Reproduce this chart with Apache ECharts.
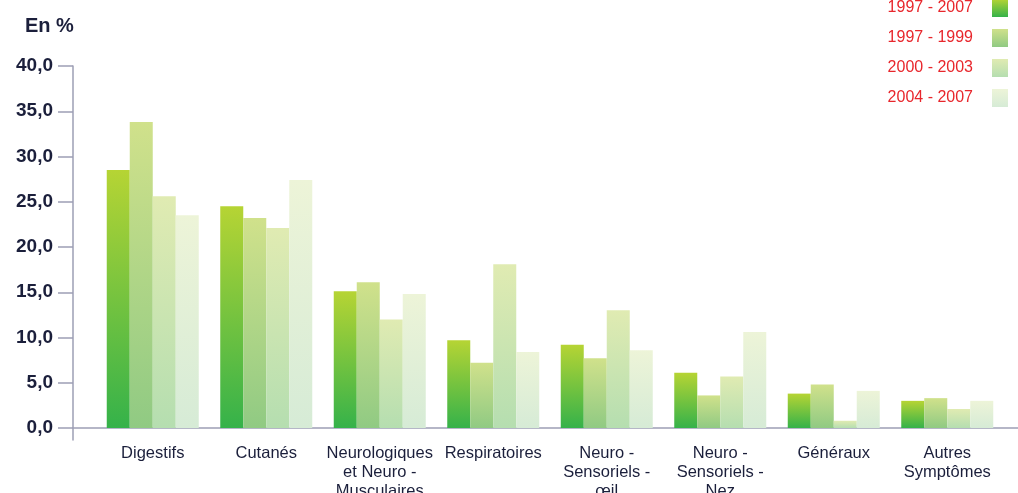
<!DOCTYPE html>
<html>
<head>
<meta charset="utf-8">
<script src="https://cdn.jsdelivr.net/npm/echarts@6/dist/echarts.min.js"></script>
<style>
  html, body { margin: 0; padding: 0; background: #fff; }
  #main { width: 1018px; height: 493px; }
</style>
</head>
<body>
<div id="main"></div>
<script>
var categories = ['Digestifs', 'Cutanés', 'Neurologiques\net Neuro -\nMusculaires', 'Respiratoires',
  'Neuro -\nSensoriels -\nœil', 'Neuro -\nSensoriels -\nNez', 'Généraux', 'Autres\nSymptômes'];
var seriesNames = ['1997 - 2007', '1997 - 1999', '2000 - 2003', '2004 - 2007'];
var p1997_2007 = [28.5, 24.5, 15.1, 9.7, 9.2, 6.1, 3.8, 3.0];
var p1997_1999 = [33.8, 23.2, 16.1, 7.2, 7.7, 3.6, 4.8, 3.3];
var p2000_2003 = [25.6, 22.1, 12.0, 18.1, 13.0, 5.7, 0.8, 2.1];
var p2004_2007 = [23.5, 27.4, 14.8, 8.4, 8.6, 10.6, 4.1, 3.0];

var myChart = echarts.init(document.getElementById('main'));
var txt = '#1b1f3b';
var axisCol = '#9d9fb5';
var font = 'Liberation Sans, Arial, Helvetica, sans-serif';

function grad(top, bottom) {
  return new echarts.graphic.LinearGradient(0, 0, 0, 1, [
    {offset: 0, color: top},
    {offset: 1, color: bottom}
  ]);
}
var colors = [
  grad('#b6d434', '#35b24a'),
  grad('#d0e18b', '#90ca83'),
  grad('#e0ebb2', '#b5deb0'),
  grad('#edf4d8', '#d6ebd6')
];
var datas = [p1997_2007, p1997_1999, p2000_2003, p2004_2007];

var series = [];
for (var i = 0; i < datas.length; i++) {
  series.push({
    name: seriesNames[i],
    type: 'bar',
    xAxisIndex: 1,
    yAxisIndex: 1,
    barWidth: 23,
    barGap: '0%',
    itemStyle: {color: colors[i]},
    data: datas[i]
  });
}

var option = {
  backgroundColor: '#fff',
  animation: false,
  title: {
    text: 'En %',
    left: 20,
    top: 11,
    textStyle: {color: txt, fontSize: 20, fontWeight: 'bold', fontFamily: font}
  },
  legend: {
    orient: 'vertical',
    right: 5,
    top: -6,
    align: 'right',
    icon: 'rect',
    itemWidth: 16,
    itemHeight: 18,
    itemGap: 12,
    data: seriesNames,
    textStyle: {color: '#e8262c', fontSize: 16, fontFamily: font, padding: [0, 14, 0, 0]}
  },
  grid: [
    {left: 73, right: 0, top: 66, bottom: 53, outerBoundsMode: 'none'},
    {left: 96, right: 14, top: 66, bottom: 65, outerBoundsMode: 'none'}
  ],
  xAxis: [
    {
      gridIndex: 0, type: 'value', min: 0, max: 1,
      axisLine: {show: true, onZero: true, lineStyle: {color: axisCol, width: 1.5}},
      axisTick: {show: false}, axisLabel: {show: false}, splitLine: {show: false}
    },
    {
      gridIndex: 1, type: 'category', data: categories,
      axisLine: {show: false}, axisTick: {show: false},
      axisLabel: {interval: 0, color: txt, fontSize: 16.5, lineHeight: 19, margin: 16, fontFamily: font}
    }
  ],
  yAxis: [
    {
      gridIndex: 0, type: 'value', min: -1.33, max: 40,
      axisLine: {show: true, lineStyle: {color: axisCol, width: 1.5}},
      axisTick: {show: false}, axisLabel: {show: false}, splitLine: {show: false}
    },
    {
      gridIndex: 1, type: 'value', min: 0, max: 40, interval: 5, offset: 23,
      axisLine: {show: false},
      axisTick: {show: true, length: 15, lineStyle: {color: axisCol, width: 1.5}},
      axisLabel: {
        color: txt, fontSize: 19, fontWeight: 'bold', margin: 20, fontFamily: font,
        formatter: function (v) { return v.toFixed(1).replace('.', ','); }
      },
      splitLine: {show: false}
    }
  ],
  series: series
};
myChart.setOption(option);
</script>
</body>
</html>
